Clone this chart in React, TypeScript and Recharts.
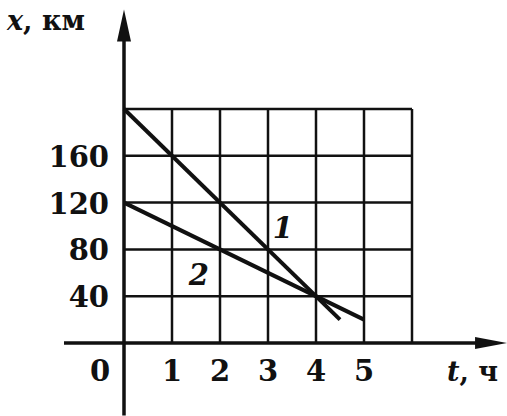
import { LineChart, Line, XAxis, YAxis, ReferenceLine, ReferenceDot } from "recharts"

// motion graphs x(t)
const line1 = [
  { t: 0, x: 200 },
  { t: 4.5, x: 20 },
]
const line2 = [
  { t: 0, x: 120 },
  { t: 5, x: 20 },
]

const gridT = [1, 2, 3, 4, 5, 6]
const gridX = [40, 80, 120, 160, 200]
const tTicks = [0, 1, 2, 3, 4, 5]
const xTicks = [40, 80, 120, 160]

const FONT = "'DejaVu Serif', serif"
const INK = "#111"

const XTick = ({ x, y, payload }: any) => (
  <text
    x={payload.value === 0 ? x - 24 : x}
    y={y + 28}
    textAnchor="middle"
    dominantBaseline="central"
    fontFamily={FONT}
    fontWeight="bold"
    fontSize={29}
    fill={INK}
  >
    {payload.value}
  </text>
)

const YTick = ({ x, y, payload }: any) => (
  <text
    x={x - 15}
    y={y + 1}
    textAnchor="end"
    dominantBaseline="central"
    fontFamily={FONT}
    fontWeight="bold"
    fontSize={29}
    fill={INK}
  >
    {payload.value}
  </text>
)

const YTitle = ({ viewBox }: any) => (
  <text x={viewBox.x - 27} y={viewBox.y - 79} fontFamily={FONT} fontWeight="bold" fontSize={27} fill={INK}>
    <tspan fontStyle="italic">x</tspan>, км
  </text>
)

const XTitle = ({ viewBox }: any) => (
  <text x={viewBox.x + viewBox.width + 35} y={viewBox.y + 38} fontFamily={FONT} fontWeight="bold" fontSize={27} fill={INK}>
    <tspan fontStyle="italic">t</tspan>, ч
  </text>
)

const ArrowUp = ({ cx, cy }: any) => (
  <path d={`M${cx},${cy} L${cx - 7},${cy + 32} L${cx + 7},${cy + 32} Z`} fill={INK} />
)

const ArrowRight = ({ cx, cy }: any) => (
  <path d={`M${cx},${cy} L${cx - 32},${cy - 6} L${cx - 32},${cy + 6} Z`} fill={INK} />
)

const curveLabel = (text: string) => ({ cx, cy }: any) => (
  <text
    x={cx}
    y={cy}
    textAnchor="middle"
    dominantBaseline="central"
    fontFamily={FONT}
    fontStyle="italic"
    fontWeight="bold"
    fontSize={29}
    fill={INK}
  >
    {text}
  </text>
)

export default function App() {
  return (
    <div style={{ position: "absolute", left: 0, top: 0, background: "#fff" }}>
      <LineChart width={507} height={416} margin={{ top: 109, right: 95, bottom: 33, left: 34 }}>
        <XAxis
          type="number"
          dataKey="t"
          domain={[0, 6]}
          ticks={tTicks}
          axisLine={false}
          tickLine={false}
          tickSize={0}
          tickMargin={0}
          height={40}
          tick={<XTick />}
          label={{ content: <XTitle /> }}
        />
        <YAxis
          type="number"
          dataKey="x"
          domain={[0, 200]}
          ticks={xTicks}
          axisLine={false}
          tickLine={false}
          tickSize={0}
          tickMargin={0}
          width={90}
          tick={<YTick />}
          label={{ content: <YTitle /> }}
        />

        {gridT.map((t) => (
          <ReferenceLine
            key={"v" + t}
            segment={[{ x: t, y: 0 }, { x: t, y: 200 }]}
            stroke={INK}
            strokeWidth={2.5}
            ifOverflow="visible"
          />
        ))}
        {gridX.map((v) => (
          <ReferenceLine
            key={"h" + v}
            segment={[{ x: 0, y: v }, { x: 6, y: v }]}
            stroke={INK}
            strokeWidth={2.5}
            ifOverflow="visible"
          />
        ))}

        <ReferenceLine segment={[{ x: -1.25, y: 0 }, { x: 7.6, y: 0 }]} stroke={INK} strokeWidth={3.5} ifOverflow="visible" />
        <ReferenceLine segment={[{ x: 0, y: -62 }, { x: 0, y: 270 }]} stroke={INK} strokeWidth={3.5} ifOverflow="visible" />
        <ReferenceDot x={7.98} y={0} r={0} ifOverflow="visible" shape={<ArrowRight />} />
        <ReferenceDot x={0} y={285} r={0} ifOverflow="visible" shape={<ArrowUp />} />

        <Line data={line1} dataKey="x" stroke={INK} strokeWidth={4} dot={false} isAnimationActive={false} />
        <Line data={line2} dataKey="x" stroke={INK} strokeWidth={4} dot={false} isAnimationActive={false} />

        <ReferenceDot x={3.31} y={98} r={0} ifOverflow="visible" shape={curveLabel("1")} />
        <ReferenceDot x={1.56} y={58} r={0} ifOverflow="visible" shape={curveLabel("2")} />
      </LineChart>
    </div>
  )
}
